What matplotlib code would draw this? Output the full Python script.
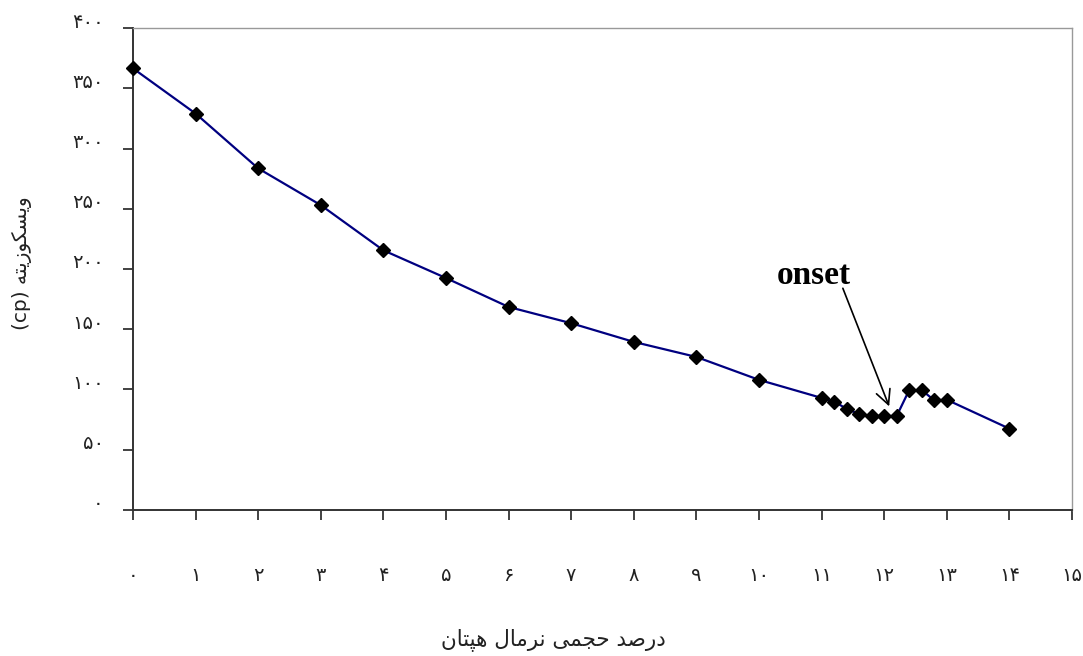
import matplotlib
matplotlib.use("Agg")
import matplotlib.pyplot as plt
import matplotlib.transforms as mtransforms

# درصد حجمی نرمال هپتان و ویسکوزیته (cp)
heptane = [0, 1, 2, 3, 4, 5, 6, 7, 8, 9, 10,
           11.0, 11.2, 11.4, 11.6, 11.8, 12.0, 12.2, 12.4, 12.6, 12.8, 13.0, 14.0]
viscosity = [366.5, 329, 283.5, 253, 215.5, 192.5, 168.5, 155, 139.5, 127, 108,
             93, 90, 84, 79.5, 78, 78, 78, 99.5, 99.5, 91, 91.5, 67.5]

x_ticks = list(range(0, 16))
y_ticks = list(range(0, 401, 50))

x_title = "درصد حجمی نرمال هپتان"
y_title = "ویسکوزیته"

# ---- minimal Persian shaping (matplotlib has no complex text layout) ----
FORMS = {
    "ا": ("\uFE8D", "\uFE8E", None, None),
    "د": ("\uFEA9", "\uFEAA", None, None),
    "ر": ("\uFEAD", "\uFEAE", None, None),
    "ز": ("\uFEAF", "\uFEB0", None, None),
    "و": ("\uFEED", "\uFEEE", None, None),
    "ت": ("\uFE95", "\uFE96", "\uFE97", "\uFE98"),
    "ج": ("\uFE9D", "\uFE9E", "\uFE9F", "\uFEA0"),
    "ح": ("\uFEA1", "\uFEA2", "\uFEA3", "\uFEA4"),
    "س": ("\uFEB1", "\uFEB2", "\uFEB3", "\uFEB4"),
    "ص": ("\uFEB9", "\uFEBA", "\uFEBB", "\uFEBC"),
    "ل": ("\uFEDD", "\uFEDE", "\uFEDF", "\uFEE0"),
    "م": ("\uFEE1", "\uFEE2", "\uFEE3", "\uFEE4"),
    "ن": ("\uFEE5", "\uFEE6", "\uFEE7", "\uFEE8"),
    "ه": ("\uFEE9", "\uFEEA", "\uFEEB", "\uFEEC"),
    "ی": ("\uFBFC", "\uFBFD", "\uFBFE", "\uFBFF"),
    "ک": ("\uFB8E", "\uFB8F", "\uFB90", "\uFB91"),
    "پ": ("\uFB56", "\uFB57", "\uFB58", "\uFB59"),
}


def joins_next(c):
    return c in FORMS and FORMS[c][2] is not None


def shape(word):
    out = []
    for i, c in enumerate(word):
        if c not in FORMS:
            out.append(c)
            continue
        prev_j = i > 0 and joins_next(word[i - 1])
        next_j = i < len(word) - 1 and word[i + 1] in FORMS and joins_next(c)
        iso, fin, ini, med = FORMS[c]
        if prev_j and next_j:
            out.append(med)
        elif prev_j:
            out.append(fin)
        elif next_j:
            out.append(ini)
        else:
            out.append(iso)
    return "".join(out)[::-1]


def shape_line(text):
    return " ".join(shape(w) for w in text.split()[::-1])


def persian_digits(n):
    return "".join("۰۱۲۳۴۵۶۷۸۹"[int(d)] for d in str(n))


fig = plt.figure(figsize=(10.83, 6.56), dpi=100)
ax = fig.add_axes([0.1228, 0.2226, 0.8670, 0.7347])

ax.plot(heptane, viscosity, color="#000080", lw=1.6, zorder=2, clip_on=False)
ax.plot(heptane, viscosity, ls="none", marker="D", ms=7, color="black",
        zorder=3, clip_on=False)

ax.set_xlim(0, 15)
ax.set_ylim(0, 400)
ax.set_xticks(x_ticks)
ax.set_xticklabels([persian_digits(v) for v in x_ticks])
ax.set_yticks(y_ticks)
ax.set_yticklabels([persian_digits(v) for v in y_ticks])

ax.tick_params(axis="x", direction="out", length=7, width=1.2, pad=33,
               labelsize=14, colors="#222222")
ax.tick_params(axis="y", direction="out", length=7, width=1.2, pad=14,
               labelsize=14, colors="#222222")

# y tick labels sit a little above their ticks in the original
shift = mtransforms.ScaledTranslation(0, 8 / 100, fig.dpi_scale_trans)
for lab in ax.get_yticklabels():
    lab.set_transform(lab.get_transform() + shift)

for s in ["left", "bottom"]:
    ax.spines[s].set_color("#333333")
    ax.spines[s].set_linewidth(1.4)
for s in ["top", "right"]:
    ax.spines[s].set_color("#999999")
    ax.spines[s].set_linewidth(1.0)

fig.text(553 / 1083, 1 - 640 / 656, shape_line(x_title), fontsize=15.5,
         ha="center", va="center", color="#222222")
fig.text(22 / 1083, 1 - 263 / 656, "(cp) " + shape(y_title), fontsize=14.5,
         rotation=90, ha="center", va="center", color="#222222")

ax.text(10.87, 195, "onset", fontsize=24, fontweight="bold",
        family="Liberation Serif", ha="center", va="center")
ax.annotate("", xy=(12.08, 86), xytext=(11.34, 184),
            arrowprops=dict(arrowstyle="->", color="black", lw=1.2,
                            mutation_scale=26, shrinkA=0, shrinkB=0))

fig.savefig("out.png", dpi=100)
